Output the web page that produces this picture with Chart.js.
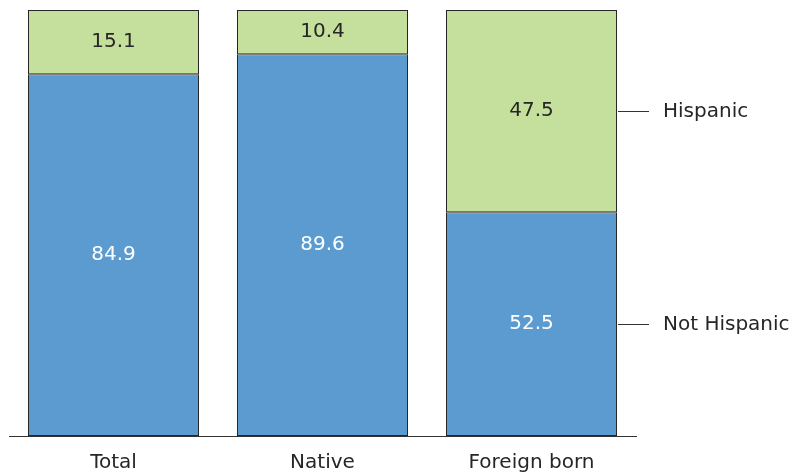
<!DOCTYPE html>
<html lang="en">
<head>
  <meta charset="UTF-8">
  <title>Hispanic origin by nativity</title>
  <script src="https://cdn.jsdelivr.net/npm/chart.js"></script>
  <style>
    body { margin: 0; background: #fff; }
  </style>
</head>
<body>
  <canvas id="myChart" width="792" height="473"></canvas>
  <script>
    // data (percent)
    const categories = ['Total', 'Native', 'Foreign born'];
    const notHispanic = [84.9, 89.6, 52.5];
    const hispanic = [15.1, 10.4, 47.5];
    const seriesNames = ['Not Hispanic', 'Hispanic'];

    const FONT = '"DejaVu Sans", sans-serif';

    // numbers inside each segment
    const valueLabels = {
      id: 'valueLabels',
      afterDatasetsDraw(chart) {
        const ctx = chart.ctx;
        ctx.save();
        ctx.font = '20px ' + FONT;
        ctx.textAlign = 'center';
        ctx.textBaseline = 'middle';
        chart.data.datasets.forEach((ds, i) => {
          const meta = chart.getDatasetMeta(i);
          meta.data.forEach((bar, j) => {
            ctx.fillStyle = i === 0 ? '#ffffff' : '#262626';
            ctx.fillText(ds.data[j].toFixed(1), bar.x, (bar.y + bar.base) / 2);
          });
        });
        ctx.restore();
      }
    };

    // series names to the right of the last bar
    const sideLabels = {
      id: 'sideLabels',
      afterDatasetsDraw(chart) {
        const ctx = chart.ctx;
        ctx.save();
        ctx.font = '20px ' + FONT;
        ctx.textAlign = 'left';
        ctx.textBaseline = 'middle';
        ctx.strokeStyle = '#333';
        ctx.lineWidth = 1;
        ctx.fillStyle = '#262626';
        chart.data.datasets.forEach((ds, i) => {
          const meta = chart.getDatasetMeta(i);
          const bar = meta.data[meta.data.length - 1];
          const right = bar.x + bar.width / 2;
          const y = Math.round((bar.y + bar.base) / 2) + 0.5;
          ctx.beginPath();
          ctx.moveTo(right + 1, y);
          ctx.lineTo(right + 32, y);
          ctx.stroke();
          ctx.fillText(seriesNames[i], right + 46, y);
        });
        ctx.restore();
      }
    };

    const ctx = document.getElementById('myChart').getContext('2d');
    const myChart = new Chart(ctx, {
      type: 'bar',
      data: {
        labels: categories,
        datasets: [
          {
            label: seriesNames[0],
            data: notHispanic,
            backgroundColor: '#5b9bcf',
            borderColor: '#262626',
            borderWidth: 1,
            borderSkipped: false
          },
          {
            label: seriesNames[1],
            data: hispanic,
            backgroundColor: '#c5df9c',
            borderColor: '#262626',
            borderWidth: 1,
            borderSkipped: false
          }
        ]
      },
      options: {
        responsive: false,
        animation: false,
        layout: {
          padding: { top: 10, left: 9, right: 156, bottom: 0 }
        },
        datasets: {
          bar: { barPercentage: 171 / 209, categoryPercentage: 1 }
        },
        plugins: {
          legend: { display: false },
          tooltip: { enabled: false }
        },
        scales: {
          x: {
            stacked: true,
            grid: { display: false, drawTicks: false },
            border: { display: true, color: '#333', width: 1 },
            ticks: {
              color: '#262626',
              padding: 15,
              font: { family: FONT, size: 20 }
            },
            afterFit(scale) {
              scale.height = 37;
            }
          },
          y: {
            stacked: true,
            display: false,
            min: 0,
            max: 100
          }
        }
      },
      plugins: [valueLabels, sideLabels]
    });
  </script>
</body>
</html>
